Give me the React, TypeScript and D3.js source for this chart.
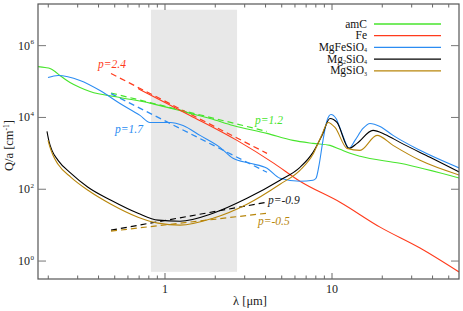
import React from "react";
import * as d3 from "d3";

// wavelength [um] and Q/a [cm^-1]
const amcLam = [0.1736, 0.1912, 0.2049, 0.2195, 0.2351, 0.2699, 0.3097, 0.3556, 0.5377, 0.8132, 1.412, 1.86, 2.554, 4.081, 5.84, 7.695, 9.728, 11.17, 12.82, 14.72, 25.54, 58.4];
const amcQ = [2.61e5, 2.45e5, 2.3e5, 1.9e5, 1.47e5, 9.38e4, 6.81e4, 5.27e4, 3.6e4, 2.5e4, 1.3e4, 9380, 5995, 3594, 2297, 1896, 1668, 1292, 1000, 826, 527, 202];

const feLam = [0.6891, 1.0, 1.412, 2.699, 4.495, 6.43, 11.17, 19.39, 33.65, 57.6];
const feQ = [6.39e4, 2.61e4, 1.14e4, 2297, 527, 167, 43.5, 8.8, 2.3, 0.495];

const mgfeLam = [0.1993, 0.2288, 0.3097, 0.408, 0.5377, 0.7084, 0.8132, 1.071, 1.282, 1.621, 2.135, 2.554, 3.228, 4.081, 4.883, 6.43, 7.695, 8.02, 8.36, 8.83, 9.34, 9.86, 10.57, 11.48, 12.64, 13.73, 15.33, 16.89, 19.39, 23.2, 33.65, 58.4];
const mgfeQ = [1.29e5, 1.47e5, 1.07e5, 5.62e4, 2.45e4, 1.14e4, 7263, 7263, 5995, 3162, 1468, 726, 527, 383, 202, 167, 178, 202, 464, 2297, 8254, 1.21e4, 9380, 3594, 1377, 2297, 4945, 6813, 5623, 3162, 1212, 383];

const forLam = [0.1965, 0.202, 0.2105, 0.2288, 0.2736, 0.3458, 0.475, 0.6891, 0.908, 1.23, 1.939, 3.097, 4.883, 6.43, 7.695, 8.713, 9.728, 10.71, 12.64, 14.12, 17.6, 20.77, 25.54, 38.63, 58.4];
const forQ = [4084, 2154, 1212, 639, 278, 114, 49.5, 21.5, 13.8, 12.9, 21.5, 56, 178, 408, 1066, 3162, 9380, 7263, 1377, 1896, 4356, 3372, 2020, 774, 297];

const enLam = [0.1993, 0.2049, 0.2135, 0.2288, 0.2736, 0.3458, 0.475, 0.6891, 0.908, 1.23, 1.939, 3.097, 4.883, 6.43, 7.695, 8.713, 9.46, 10.42, 12.3, 14.72, 18.6, 23.2, 33.65, 58.4];
const enQ = [2297, 1468, 880, 495, 215, 93.8, 38.3, 16.7, 11.4, 10, 15.6, 38.3, 138, 337, 938, 3372, 7263, 5275, 1377, 1212, 3162, 1668, 639, 245];

// power-law fits (dashed)
const fitLam = [0.475, 4.08];
const fitFeQ = [1.67e5, 1000];
const fitMgfeQ = [4.6e4, 297];
const fitAmcQ = [4.8e4, 4084];
const fitForQ = [7.27, 43.5];
const fitEnQ = [6.81, 21.5];

const bandLam = [0.824, 2.7];
const bandQ = [0.5, 1e7];

const xTicksMajor = [1, 10];
const yTicksMajor = [1, 1e2, 1e4, 1e6];
const yTickExp = ["0", "2", "4", "6"];

const W = 463, H = 311;
const L = 38, R = 459, T = 4, B = 279;
const font = "Liberation Serif, DejaVu Serif, serif";

const cGreen = "#47e52c";
const cRed = "#ff3b1c";
const cBlue = "#2b8cf2";
const cBlack = "#000000";
const cGold = "#b8860b";

const x = d3.scaleLog().domain([0.1736, 57.6]).range([L, R]);
const y = d3.scaleLog().domain([Math.pow(10, -0.5), Math.pow(10, 7.16)]).range([B, T]);

const line = d3
  .line<[number, number]>()
  .x((d) => x(d[0]))
  .y((d) => y(d[1]))
  .curve(d3.curveMonotoneX);

const zip = (a: number[], b: number[]) => a.map((v, i) => [v, b[i]] as [number, number]);

const curves = [
  { lam: amcLam, q: amcQ, color: cGreen },
  { lam: feLam, q: feQ, color: cRed },
  { lam: mgfeLam, q: mgfeQ, color: cBlue },
  { lam: forLam, q: forQ, color: cBlack },
  { lam: enLam, q: enQ, color: cGold },
];

const fits = [
  { q: fitAmcQ, color: cGreen },
  { q: fitFeQ, color: cRed },
  { q: fitMgfeQ, color: cBlue },
  { q: fitForQ, color: cBlack },
  { q: fitEnQ, color: cGold },
];

const fitLabels = [
  { t: "p=2.4", color: cRed, lx: 98, ly: 68 },
  { t: "p=1.7", color: cBlue, lx: 115, ly: 133 },
  { t: "p=1.2", color: cGreen, lx: 255, ly: 124 },
  { t: "p=-0.9", color: "#222", lx: 268, ly: 204 },
  { t: "p=-0.5", color: cGold, lx: 258, ly: 225 },
];

const legend = [
  { parts: [["amC", ""]], color: cGreen },
  { parts: [["Fe", ""]], color: cRed },
  { parts: [["MgFeSiO", ""], ["4", "s"]], color: cBlue },
  { parts: [["Mg", ""], ["2", "s"], ["SiO", ""], ["4", "s"]], color: cBlack },
  { parts: [["MgSiO", ""], ["3", "s"]], color: cGold },
];

const minorX: number[] = [];
for (let d = -1; d <= 1; d++) {
  for (let k = 2; k <= 9; k++) {
    const v = k * Math.pow(10, d);
    if (v > 0.1736 && v < 57.6) minorX.push(v);
  }
}

const App = () => {
  return (
    <svg width={W} height={H} style={{ position: "absolute", left: 0, top: 0, fontFamily: font }}>
      <defs>
        <clipPath id="plot">
          <rect x={L} y={T} width={R - L} height={B - T} />
        </clipPath>
      </defs>
      <rect x={0} y={0} width={W} height={H} fill="#fff" />
      <rect
        x={x(bandLam[0])}
        y={y(bandQ[1])}
        width={x(bandLam[1]) - x(bandLam[0])}
        height={y(bandQ[0]) - y(bandQ[1])}
        fill="#e8e8e8"
      />
      <g clipPath="url(#plot)" fill="none">
        {fits.map((f, i) => (
          <path key={"f" + i} d={line(zip(fitLam, f.q)) || ""} stroke={f.color} strokeWidth={1.2} strokeDasharray="6,4" />
        ))}
        {curves.map((c, i) => (
          <path key={i} d={line(zip(c.lam, c.q)) || ""} stroke={c.color} strokeWidth={1.1} />
        ))}
      </g>
      {fitLabels.map((l, i) => (
        <text key={i} x={l.lx} y={l.ly} fill={l.color} fontSize={11.5} fontStyle="italic" style={{ fontFamily: font }}>
          {l.t}
        </text>
      ))}
      {/* frame */}
      <rect x={L} y={T} width={R - L} height={B - T} fill="none" stroke="#555" strokeWidth={1.2} />
      {xTicksMajor.map((v) => (
        <g key={v}>
          <line x1={x(v)} x2={x(v)} y1={B} y2={B - 6} stroke="#666" />
          <line x1={x(v)} x2={x(v)} y1={T} y2={T + 6} stroke="#666" />
          <text x={x(v)} y={293} textAnchor="middle" fontSize={12} fill="#222" style={{ fontFamily: font }}>
            {v}
          </text>
        </g>
      ))}
      {minorX.map((v) => (
        <g key={v}>
          <line x1={x(v)} x2={x(v)} y1={B} y2={B - 3.5} stroke="#666" />
          <line x1={x(v)} x2={x(v)} y1={T} y2={T + 3.5} stroke="#666" />
        </g>
      ))}
      {yTicksMajor.map((v, i) => (
        <g key={v}>
          <line x1={L} x2={L + 8} y1={y(v)} y2={y(v)} stroke="#777" />
          <line x1={R} x2={R - 8} y1={y(v)} y2={y(v)} stroke="#777" />
          <text x={30} y={y(v) + 4} textAnchor="end" fontSize={12} fill="#222" style={{ fontFamily: font }}>
            10
          </text>
          <text x={30.5} y={y(v) - 1.5} fontSize={7} fill="#222" style={{ fontFamily: font }}>
            {yTickExp[i]}
          </text>
        </g>
      ))}
      <text x={250} y={305} textAnchor="middle" fontSize={12.5} fill="#222" style={{ fontFamily: font }}>
        λ [μm]
      </text>
      <text
        transform={`translate(13,${(T + B) / 2 + 4}) rotate(-90)`}
        textAnchor="middle"
        fontSize={12.5}
        fill="#222"
        style={{ fontFamily: font }}
      >
        Q/a [cm<tspan fontSize={7.5} dy={-4.5}>-1</tspan>
        <tspan dy={4.5}>]</tspan>
      </text>
      {legend.map((e, i) => {
        const ry = 24 + i * 11.7;
        let shift = 0;
        return (
          <g key={i}>
            <line x1={374} x2={441} y1={ry} y2={ry} stroke={e.color} strokeWidth={1.3} />
            <text x={367} y={ry + 3.5} textAnchor="end" fontSize={11.5} fill="#111" style={{ fontFamily: font }}>
              {e.parts.map((p, j) => {
                const target = p[1] === "s" ? 1.5 : 0;
                const dy = target - shift;
                shift = target;
                return (
                  <tspan key={j} dy={dy} fontSize={p[1] === "s" ? 6 : 11.5}>
                    {p[0]}
                  </tspan>
                );
              })}
            </text>
          </g>
        );
      })}
    </svg>
  );
};

export default App;
